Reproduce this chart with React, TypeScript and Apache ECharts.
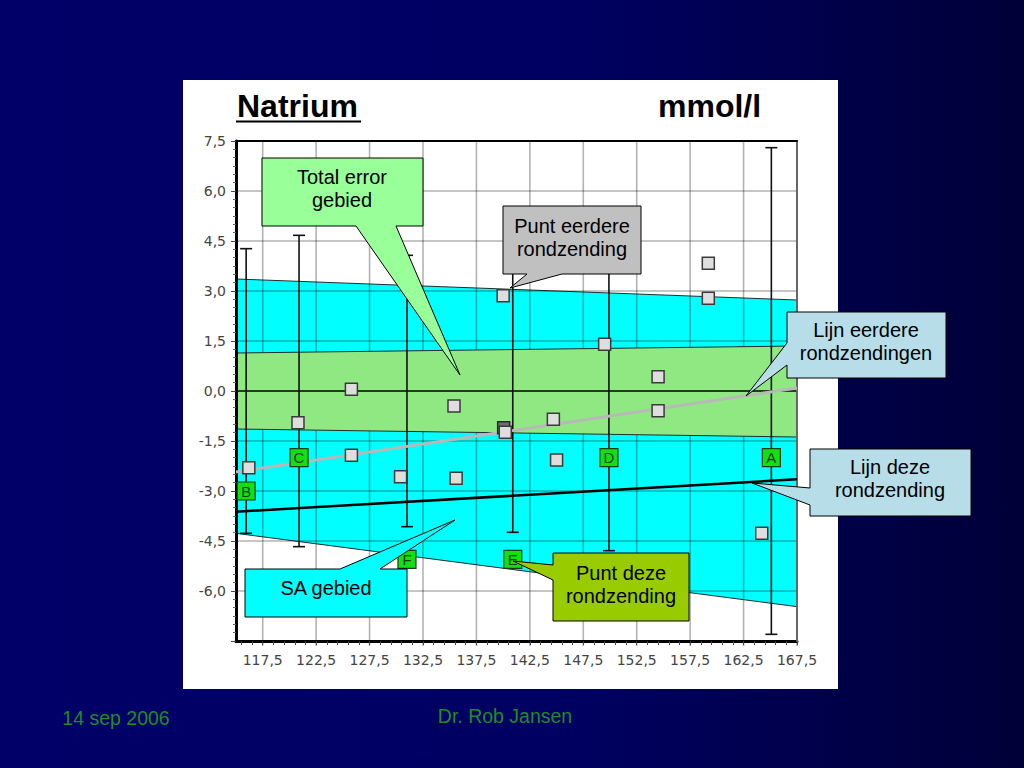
import React, { useEffect, useRef } from "react";
import * as echarts from "echarts";

// ---------- data ----------
const bandX = [115, 167.5];
const saUpper = [3.36, 2.73];
const saLower = [-4.27, -6.47];
const teUpper = [1.14, 1.35];
const teLower = [-1.14, -1.38];

const prevLineX = [115, 167.5];
const prevLineY = [-2.43, 0.09];
const curLineX = [115, 167.5];
const curLineY = [-3.62, -2.65];

const prevX = [116.2, 120.8, 125.8, 125.8, 130.4, 135.4, 135.6, 140.2, 140.0, 144.7, 145.0, 149.5, 154.5, 154.5, 159.2, 159.2, 164.2];
const prevY = [-2.3, -0.95, 0.05, -1.93, -2.57, -0.45, -2.62, -1.24, 2.86, -0.85, -2.07, 1.4, 0.43, -0.59, 3.83, 2.78, -4.27];
const prevDarkX = [140.05];
const prevDarkY = [-1.1];

const curLetters = ["A", "B", "C", "D", "E", "F"];
const curX = [165.1, 115.95, 120.9, 149.9, 140.9, 131.0];
const curY = [-2.0, -3.0, -2.0, -2.0, -5.05, -5.05];
const curErr = [7.3, 4.27, 4.67, 4.79, 4.24, 4.07];

// x positions of the labelled ticks / vertical grid lines
const xLabelTicks = [117.5, 122.5, 127.5, 132.5, 137.5, 142.5, 147.5, 152.5, 157.5, 162.5, 167.5];
const xMinorTicks = Array.from({ length: 53 }, (_, i) => 115.5 + i);

const ARIAL = '"Liberation Sans", Arial, sans-serif';
const GRID = "rgba(0,0,0,0.3)";

function bandSeries(lower: number[], upper: number[], fill: string, z: number) {
  return {
    type: "custom",
    z,
    silent: true,
    data: bandX.map((x, i) => [x, lower[i], upper[i]]),
    renderItem: (params: any, api: any) => {
      if (params.dataIndex !== 0) return null;
      const top = bandX.map((x, i) => api.coord([x, upper[i]]));
      const bot = bandX.map((x, i) => api.coord([x, lower[i]])).reverse();
      return {
        type: "polygon",
        shape: { points: [...top, ...bot] },
        style: { fill, stroke: "#1d2f2f", lineWidth: 1 },
      };
    },
  };
}

function callout(points: number[][], fill: string, text: string, cx: number, cy: number) {
  return [
    {
      type: "polygon",
      z: 50,
      shape: { points },
      style: { fill, stroke: "#000", lineWidth: 1 },
    },
    {
      type: "text",
      z: 51,
      x: cx,
      y: cy,
      style: {
        text,
        font: `20px ${ARIAL}`,
        fill: "#000",
        align: "center",
        verticalAlign: "middle",
        textAlign: "center",
        textVerticalAlign: "middle",
        lineHeight: 23,
      },
    },
  ];
}

export default function App() {
  const ref = useRef<HTMLDivElement>(null);

  useEffect(() => {
    if (!ref.current) return;
    const chart = echarts.init(ref.current, null, { renderer: "svg" });

    const yGridColors = Array.from({ length: 11 }, (_, i) => (i === 5 ? "#000" : GRID));

    const option: any = {
      animation: false,
      backgroundColor: "transparent",
      grid: { left: 236, right: 227, top: 141, bottom: 127 },
      xAxis: [
        {
          type: "value",
          min: 115,
          max: 167.5,
          interval: 2.5,
          position: "bottom",
          z: 2,
          axisLine: { show: true, onZero: false, lineStyle: { color: "#000", width: 3 } },
          axisTick: { show: false },
          axisLabel: {
            fontSize: 14,
            fontFamily: "DejaVu Sans",
            color: "#444",
            margin: 12,
            formatter: (v: number) => {
              const k = (v - 117.5) / 5;
              return Math.abs(k - Math.round(k)) < 1e-6 ? v.toFixed(1).replace(".", ",") : "";
            },
          },
          splitLine: { show: false },
        },
        {
          type: "value",
          min: 115,
          max: 167.5,
          interval: 1,
          position: "bottom",
          z: 2,
          axisLine: { show: false, onZero: false },
          axisLabel: { show: false },
          splitLine: { show: false },
          axisTick: { show: true, length: 4, customValues: xMinorTicks, lineStyle: { color: "#444", width: 1 } },
        },
        {
          type: "value",
          min: 115,
          max: 167.5,
          interval: 2.5,
          position: "top",
          z: 4,
          axisLine: { show: true, onZero: false, lineStyle: { color: "#000", width: 2 } },
          axisTick: { show: false },
          axisLabel: { show: false },
          splitLine: { show: false },
        },
      ],
      yAxis: [
        {
          type: "value",
          min: -7.5,
          max: 7.5,
          interval: 1.5,
          position: "left",
          z: 4,
          axisLine: { show: true, onZero: false, lineStyle: { color: "#000", width: 3 } },
          axisTick: { show: true, length: 5, lineStyle: { color: "#444" } },
          minorTick: { show: true, splitNumber: 6, length: 3, lineStyle: { color: "#666" } },
          axisLabel: {
            fontSize: 14,
            fontFamily: "DejaVu Sans",
            color: "#444",
            margin: 10,
            formatter: (v: number) => (v === -7.5 ? "" : v.toFixed(1).replace(".", ",")),
          },
          splitLine: { show: true, lineStyle: { color: yGridColors, width: 1.6 } },
        },
        {
          type: "value",
          min: -7.5,
          max: 7.5,
          interval: 1.5,
          position: "right",
          z: 4,
          axisLine: { show: true, onZero: false, lineStyle: { color: "#666", width: 2 } },
          axisTick: { show: false },
          axisLabel: { show: false },
          splitLine: { show: false },
        },
      ],
      series: [
        bandSeries(saLower, saUpper, "#00ffff", 1),
        {
          // vertical grid lines at the labelled x ticks (between cyan and green)
          type: "custom",
          z: 2,
          silent: true,
          data: xLabelTicks.map((x) => [x]),
          renderItem: (params: any, api: any) => {
            const x = api.value(0);
            const p1 = api.coord([x, 7.5]);
            const p2 = api.coord([x, -7.5]);
            return {
              type: "line",
              shape: { x1: p1[0], y1: p1[1], x2: p2[0], y2: p2[1] + 5 },
              style: { stroke: GRID, lineWidth: 1.6 },
            };
          },
        },
        bandSeries(teLower, teUpper, "#8fe882", 3),
        {
          type: "custom",
          z: 5,
          silent: true,
          data: curX.map((x, i) => [x, -curErr[i], curErr[i]]),
          renderItem: (params: any, api: any) => {
            const x = api.value(0);
            const p1 = api.coord([x, api.value(2)]);
            const p2 = api.coord([x, api.value(1)]);
            const w = 6;
            const st = { stroke: "#111", lineWidth: 1.6 };
            return {
              type: "group",
              children: [
                { type: "line", shape: { x1: p1[0], y1: p1[1], x2: p2[0], y2: p2[1] }, style: st },
                { type: "line", shape: { x1: p1[0] - w, y1: p1[1], x2: p1[0] + w, y2: p1[1] }, style: st },
                { type: "line", shape: { x1: p2[0] - w, y1: p2[1], x2: p2[0] + w, y2: p2[1] }, style: st },
              ],
            };
          },
        },
        {
          type: "line",
          z: 6,
          silent: true,
          symbol: "none",
          data: prevLineX.map((x, i) => [x, prevLineY[i]]),
          lineStyle: { color: "#b8b8b8", width: 3 },
        },
        {
          type: "line",
          z: 6,
          silent: true,
          symbol: "none",
          data: curLineX.map((x, i) => [x, curLineY[i]]),
          lineStyle: { color: "#000", width: 2.5 },
        },
        {
          type: "scatter",
          z: 7,
          symbol: "rect",
          symbolSize: 12,
          data: prevDarkX.map((x, i) => [x, prevDarkY[i]]),
          itemStyle: { color: "#6e6e6e", borderColor: "#2a2a2a", borderWidth: 1.5, opacity: 1 },
        },
        {
          type: "scatter",
          z: 8,
          symbol: "rect",
          symbolSize: 12,
          data: prevX.map((x, i) => [x, prevY[i]]),
          itemStyle: { color: "#dedede", borderColor: "#3a3a3a", borderWidth: 1.5, opacity: 1 },
        },
        {
          type: "scatter",
          z: 9,
          symbol: "rect",
          symbolSize: 18,
          data: curX.map((x, i) => [x, curY[i]]),
          itemStyle: { color: "#12e012", borderColor: "#1a3d1a", borderWidth: 1.2, opacity: 1 },
          label: {
            show: true,
            position: "inside",
            formatter: (p: any) => curLetters[p.dataIndex],
            fontSize: 15,
            fontFamily: ARIAL,
            color: "#123d12",
          },
        },
      ],
      graphic: [
        { type: "rect", z: 0, shape: { x: 183, y: 80, width: 655, height: 609 }, style: { fill: "#ffffff" } },
        {
          type: "text",
          z: 10,
          x: 237,
          y: 106,
          style: { text: "Natrium", font: `bold 32px ${ARIAL}`, fill: "#000", verticalAlign: "middle", textVerticalAlign: "middle" },
        },
        { type: "line", z: 10, shape: { x1: 236, y1: 121.5, x2: 361, y2: 121.5 }, style: { stroke: "#000", lineWidth: 2.2 } },
        {
          type: "text",
          z: 10,
          x: 658,
          y: 106,
          style: { text: "mmol/l", font: `bold 32px ${ARIAL}`, fill: "#000", verticalAlign: "middle", textVerticalAlign: "middle" },
        },
        ...callout(
          [[262, 158], [423, 158], [423, 226], [396, 226], [460, 375], [356, 226], [262, 226]],
          "#99ff99",
          "Total error\ngebied",
          342,
          188
        ),
        ...callout(
          [[503, 206], [641, 206], [641, 274], [562, 274], [510, 288], [527, 274], [503, 274]],
          "#c0c0c0",
          "Punt eerdere\nrondzending",
          572,
          237
        ),
        ...callout(
          [[787, 312], [946, 312], [946, 378], [787, 378], [787, 365], [746, 396], [787, 343]],
          "#b7dee8",
          "Lijn eerdere\nrondzendingen",
          866,
          341
        ),
        ...callout(
          [[810, 449], [971, 449], [971, 516], [810, 516], [810, 505], [752, 483], [810, 488]],
          "#b7dee8",
          "Lijn deze\nrondzending",
          890,
          478
        ),
        ...callout(
          [[553, 553], [689, 553], [689, 621], [553, 621], [553, 580], [513, 561], [553, 565]],
          "#99cc00",
          "Punt deze\nrondzending",
          621,
          584
        ),
        ...callout(
          [[245, 569], [340, 569], [455, 520], [380, 569], [407, 569], [407, 617], [245, 617]],
          "#00ffff",
          "SA gebied",
          326,
          588
        ),
        {
          type: "text",
          z: 10,
          x: 116,
          y: 718,
          style: {
            text: "14 sep 2006",
            font: `19.5px ${ARIAL}`,
            fill: "#1e8c28",
            align: "center",
            verticalAlign: "middle",
            textAlign: "center",
            textVerticalAlign: "middle",
          },
        },
        {
          type: "text",
          z: 10,
          x: 505,
          y: 716,
          style: {
            text: "Dr. Rob Jansen",
            font: `19.5px ${ARIAL}`,
            fill: "#1e8c28",
            align: "center",
            verticalAlign: "middle",
            textAlign: "center",
            textVerticalAlign: "middle",
          },
        },
      ],
    };

    chart.setOption(option);
    return () => chart.dispose();
  }, []);

  return (
    <div
      style={{
        position: "fixed",
        left: 0,
        top: 0,
        width: 1024,
        height: 768,
        background: "linear-gradient(90deg, #000068 0%, #000062 55%, #000038 100%)",
      }}
    >
      <div ref={ref} style={{ width: 1024, height: 768 }} />
    </div>
  );
}
